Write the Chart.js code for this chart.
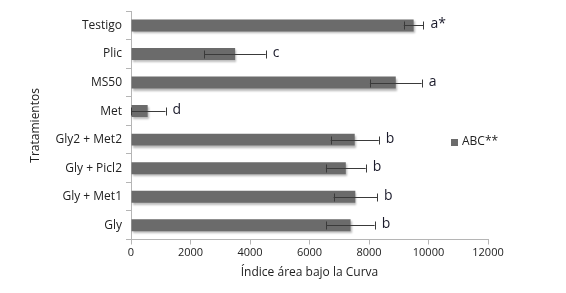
<!DOCTYPE html>
<html>
<head>
<meta charset="utf-8">
<script src="https://cdn.jsdelivr.net/npm/chart.js@4.4.1/dist/chart.umd.min.js"></script>
<style>
  html, body { margin: 0; padding: 0; background: #fff; }
  #wrap { width: 566px; height: 293px; position: relative; }
</style>
</head>
<body>
<div id="wrap"><canvas id="abc_chart"></canvas></div>
<script>
/* datos */
var categorias = ['Testigo', 'Plic', 'MS50', 'Met', 'Gly2 + Met2', 'Gly + Picl2', 'Gly + Met1', 'Gly'];
var valores = [9500, 3500, 8900, 560, 7520, 7220, 7540, 7380];
var errores = [330, 1030, 870, 600, 810, 670, 730, 810];
var letras = ['a*', 'c', 'a', 'd', 'b', 'b', 'b', 'b'];
var ticksX = [0, 2000, 4000, 6000, 8000, 10000, 12000];

var fuente = '"Open Sans", sans-serif';
var gris = '#6b6b6b';

/* barras de error + letras + leyenda */
var plugin_err = {
    id: 'errores',
    beforeDatasetsDraw: function(chart) {
        var ctx = chart.ctx;
        ctx.save();
        ctx.shadowColor = 'rgba(0,0,0,0.28)';
        ctx.shadowOffsetY = 2;
        ctx.shadowOffsetX = 1;
        ctx.shadowBlur = 2;
    },
    afterDatasetsDraw: function(chart) {
        var ctx = chart.ctx;
        ctx.restore();
        var xs = chart.scales.x, ys = chart.scales.y;
        ctx.save();
        ctx.strokeStyle = '#3a3a3a';
        ctx.lineWidth = 1;
        for (var i = 0; i < valores.length; i++) {
            var y = Math.round(ys.getPixelForValue(i)) + 0.5;
            var x1 = xs.getPixelForValue(Math.max(0, valores[i] - errores[i]));
            var x2 = xs.getPixelForValue(valores[i] + errores[i]);
            ctx.beginPath();
            ctx.moveTo(x1, y); ctx.lineTo(x2, y);
            ctx.moveTo(Math.round(x1) + 0.5, y - 4); ctx.lineTo(Math.round(x1) + 0.5, y + 4);
            ctx.moveTo(Math.round(x2) + 0.5, y - 4); ctx.lineTo(Math.round(x2) + 0.5, y + 4);
            ctx.stroke();
            ctx.fillStyle = '#1a1a2a';
            ctx.font = '14px ' + fuente;
            ctx.textBaseline = 'middle';
            ctx.textAlign = 'left';
            ctx.fillText(letras[i], x2 + 7, y - 1);
        }
        /* leyenda */
        ctx.fillStyle = gris;
        ctx.fillRect(451, 139, 7, 7);
        ctx.fillStyle = '#222';
        ctx.font = '12px ' + fuente;
        ctx.fillText(chart.data.datasets[0].label, 462, 142);
        ctx.restore();
    }
};

var ctx = document.getElementById('abc_chart').getContext('2d');
var grafico = new Chart(ctx, {
    type: 'bar',
    data: {
        labels: categorias,
        datasets: [{
            label: 'ABC**',
            data: valores,
            backgroundColor: gris,
            borderWidth: 0,
            categoryPercentage: 1,
            barPercentage: 0.42
        }]
    },
    options: {
        indexAxis: 'y',
        responsive: true,
        maintainAspectRatio: false,
        animation: false,
        layout: { padding: { top: 5, right: 78, left: 0, bottom: 0 } },
        plugins: { legend: { display: false }, tooltip: { enabled: false } },
        scales: {
            x: {
                min: 0, max: 12000,
                afterBuildTicks: function(s) { s.ticks = ticksX.map(function(v) { return { value: v }; }); },
                afterFit: function(s) { s.height = 53.5; },
                grid: { drawOnChartArea: false, tickLength: 5, color: '#b5b5b5' },
                border: { color: '#b5b5b5' },
                ticks: { color: '#222', font: { family: fuente, size: 11 }, padding: 2, maxRotation: 0,
                         callback: function(v) { return String(v); } },
                title: { display: true, text: 'Índice área bajo la Curva', color: '#222',
                         font: { family: fuente, size: 12 }, padding: { top: 0, bottom: 13 } }
            },
            y: {
                offset: true,
                afterFit: function(s) { s.width = 131; },
                grid: { drawOnChartArea: false, tickLength: 5, offset: true, color: '#b5b5b5' },
                border: { color: '#b5b5b5' },
                ticks: { color: '#222', font: { family: fuente, size: 12 }, padding: 4 },
                title: { display: true, text: 'Tratamientos', color: '#222',
                         font: { family: fuente, size: 12 }, padding: { top: 28, bottom: 0 } }
            }
        }
    },
    plugins: [plugin_err]
});
</script>
</body>
</html>
